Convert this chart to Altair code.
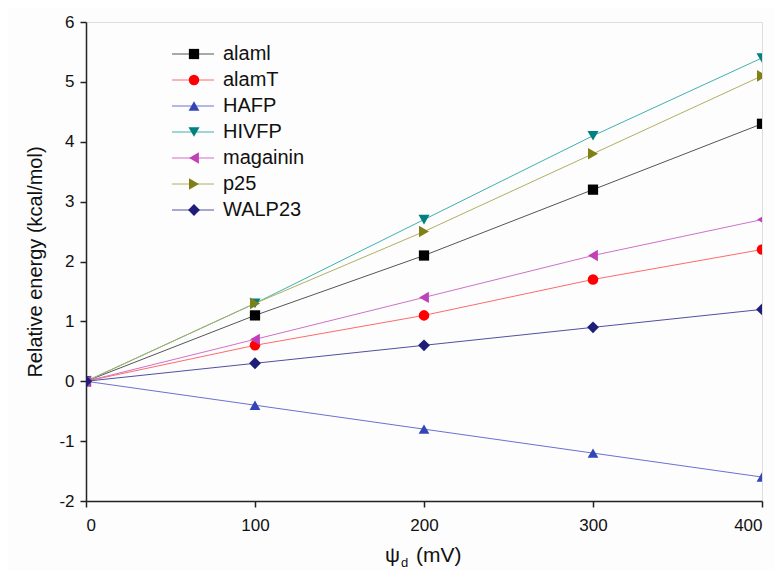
import altair as alt
import pandas as pd

x_vals = [0, 100, 200, 300, 400]
series_names = ["alaml", "alamT", "HAFP", "HIVFP", "magainin", "p25", "WALP23"]
alaml = [0, 1.1, 2.1, 3.2, 4.3]
alamT = [0, 0.6, 1.1, 1.7, 2.2]
HAFP = [0, -0.4, -0.8, -1.2, -1.6]
HIVFP = [0, 1.3, 2.7, 4.1, 5.4]
magainin = [0, 0.7, 1.4, 2.1, 2.7]
p25 = [0, 1.3, 2.5, 3.8, 5.1]
WALP23 = [0, 0.3, 0.6, 0.9, 1.2]
marker_colors = ["#000000", "#ff0000", "#3346b8", "#00807f", "#c040b8", "#808018", "#1e1e78"]
line_colors = ["#555555", "#ff6a6a", "#6a70d0", "#40b0b0", "#d070c8", "#b0b060", "#5050a0"]
shapes = ["square", "circle", "triangle-up", "triangle-down", "triangle-left", "triangle-right", "diamond"]
marker_sizes = [105, 140, 165, 165, 165, 165, 160]
y_ticks = [-2, -1, 0, 1, 2, 3, 4, 5, 6]
x_ticks = [0, 100, 200, 300, 400]

values = [alaml, alamT, HAFP, HIVFP, magainin, p25, WALP23]
rows = []
for name, vals in zip(series_names, values):
    for xv, yv in zip(x_vals, vals):
        rows.append({"series": name, "x": xv, "y": yv})
df = pd.DataFrame(rows)

W, H = 676, 479
FONT = "Liberation Sans"

xscale = alt.Scale(domain=[0, 400], nice=False, zero=False)
yscale = alt.Scale(domain=[-2, 6], nice=False, zero=False)

xenc = alt.X("x:Q", scale=xscale,
             axis=alt.Axis(values=x_ticks, title=None, labelFontSize=17, labelFont=FONT,
                           labelColor="#111", domainColor="#222", tickColor="#222",
                           tickSize=6, labelPadding=10, grid=False, domainWidth=1.5, tickWidth=1.5,
                           labelExpr="toString(datum.value)"))
yenc = alt.Y("y:Q", scale=yscale,
             axis=alt.Axis(values=y_ticks, title="Relative energy (kcal/mol)", titleFontSize=20,
                           titleFont=FONT, titleFontWeight="normal", titleColor="#111",
                           labelFontSize=17, labelFont=FONT, labelColor="#111",
                           domainColor="#222", tickColor="#222", tickSize=6, labelPadding=6,
                           titlePadding=13, grid=False, domainWidth=1.5, tickWidth=1.5,
                           labelExpr="toString(datum.value)"))

def color_enc(rng):
    return alt.Color("series:N", scale=alt.Scale(domain=series_names, range=rng), legend=None)

shp = alt.Shape("series:N", scale=alt.Scale(domain=series_names, range=shapes), legend=None)
sz = alt.Size("series:N", scale=alt.Scale(domain=series_names, range=marker_sizes), legend=None)

lines = alt.Chart(df).mark_line(strokeWidth=1, clip=True).encode(
    x=xenc, y=yenc, color=color_enc(line_colors), detail="series:N")
points = alt.Chart(df).mark_point(filled=True, opacity=1, clip=True).encode(
    x=xenc, y=yenc, color=color_enc(marker_colors), shape=shp, size=sz)

main = alt.layer(lines, points).resolve_scale(color="independent")

# manual legend
leg = pd.DataFrame({"series": series_names})
ly = alt.Y("series:N", sort=series_names, axis=None,
           scale=alt.Scale(type="point", domain=series_names, range=[32, 188], padding=0))
leg_rule = alt.Chart(leg).mark_rule(strokeWidth=1).encode(
    x=alt.value(86), x2=alt.value(128), y=ly, color=color_enc(line_colors))
leg_pt = alt.Chart(leg).mark_point(filled=True, opacity=1).encode(
    x=alt.value(108), y=ly, color=color_enc(marker_colors),
    shape=alt.Shape("series:N", scale=alt.Scale(domain=series_names, range=shapes), legend=None),
    size=alt.Size("series:N", scale=alt.Scale(domain=series_names, range=marker_sizes), legend=None))
leg_txt = alt.Chart(leg).mark_text(align="left", baseline="middle", fontSize=20, font=FONT,
                                   color="#111").encode(
    x=alt.value(137), y=ly, text="series:N")
legend = alt.layer(leg_rule, leg_pt, leg_txt).resolve_scale(
    color="independent", shape="independent", size="independent")

# x axis title with subscript
title_df = pd.DataFrame({"t": ["ψ"], "s": ["d"], "u": ["(mV)"]})
t1 = alt.Chart(title_df).mark_text(align="left", baseline="alphabetic", fontSize=21, font=FONT,
                                   color="#111").encode(x=alt.value(299), y=alt.value(H + 61), text="t:N")
t2 = alt.Chart(title_df).mark_text(align="left", baseline="alphabetic", fontSize=13, font=FONT,
                                   color="#111").encode(x=alt.value(315), y=alt.value(H + 66), text="s:N")
t3 = alt.Chart(title_df).mark_text(align="left", baseline="alphabetic", fontSize=21, font=FONT,
                                   color="#111").encode(x=alt.value(330), y=alt.value(H + 61), text="u:N")
xtitle = alt.layer(t1, t2, t3)

chart = alt.layer(main, legend, xtitle).resolve_scale(
    y="independent", color="independent", shape="independent", size="independent"
).properties(
    width=W, height=H, autosize=alt.AutoSizeParams(type="none"),
    padding={"left": 78, "top": 14, "right": 13, "bottom": 70}
).configure_view(stroke="#222", strokeWidth=1.5).configure(background="#fdfdfd")

chart.save("out.html", embed_options={"renderer": "svg", "actions": False})
